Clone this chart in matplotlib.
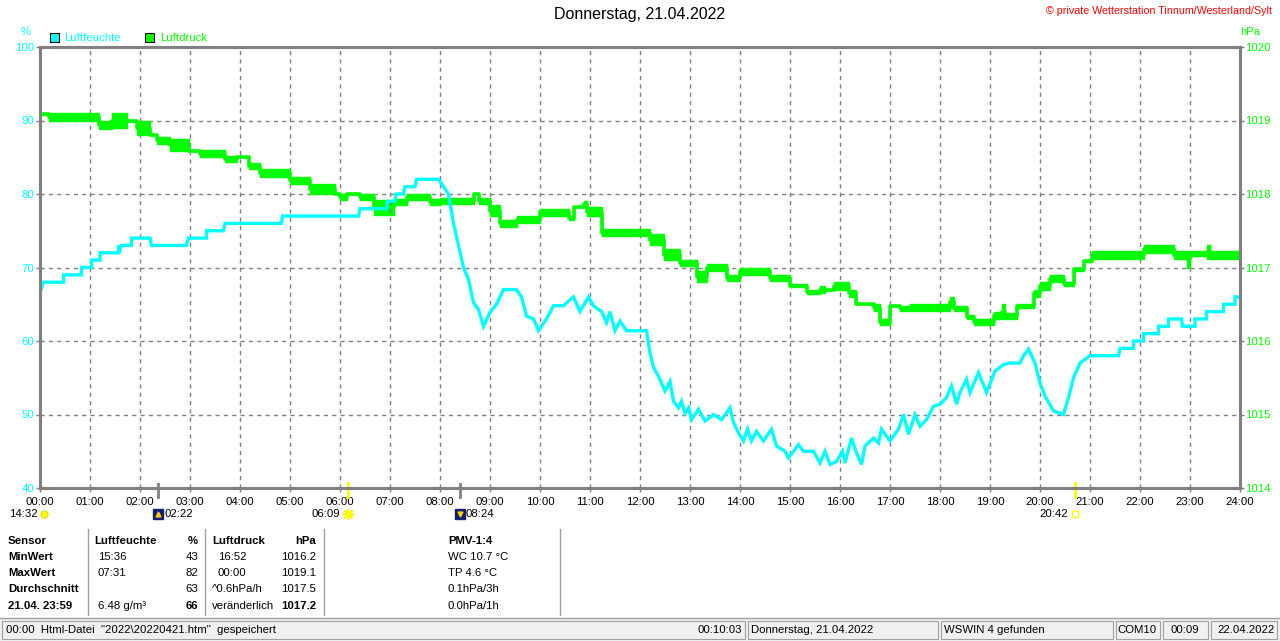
import matplotlib
matplotlib.use("Agg")
import matplotlib.pyplot as plt
import matplotlib.transforms as mtransforms
from matplotlib.patches import Rectangle
from matplotlib.lines import Line2D

plt.rcParams['font.family'] = ['Liberation Sans', 'DejaVu Sans']

# humidity (%); repeated hours give the steps
hum_t = [0.0, 0.03, 0.07, 0.47, 0.47, 0.83, 0.83, 1.03, 1.03, 1.2, 1.2, 1.57, 1.57, 1.6, 1.63,
         1.83, 1.83, 2.2, 2.23, 2.93, 2.97, 3.33, 3.33, 3.67, 3.7, 4.83, 4.85, 6.37, 6.4, 6.93,
         6.95, 7.1, 7.12, 7.27, 7.3, 7.5, 7.53, 7.97, 8.07, 8.17, 8.27, 8.37, 8.47, 8.57, 8.67,
         8.77, 8.87, 9.0, 9.13, 9.27, 9.53, 9.63, 9.73, 9.87, 9.97, 10.13, 10.27, 10.47, 10.67,
         10.8, 10.97, 11.07, 11.23, 11.33, 11.4, 11.5, 11.6, 11.73, 12.13, 12.2, 12.27, 12.37,
         12.5, 12.6, 12.67, 12.77, 12.83, 12.9, 12.97, 13.03, 13.17, 13.3, 13.47, 13.63, 13.8,
         13.87, 13.97, 14.07, 14.15, 14.23, 14.33, 14.47, 14.63, 14.73, 14.9, 14.97, 15.07,
         15.17, 15.27, 15.47, 15.6, 15.7, 15.8, 15.93, 16.05, 16.1, 16.23, 16.33, 16.43, 16.5,
         16.67, 16.77, 16.83, 17.0, 17.17, 17.27, 17.37, 17.5, 17.6, 17.73, 17.87, 18.0, 18.13,
         18.23, 18.33, 18.4, 18.53, 18.6, 18.77, 18.93, 19.1, 19.27, 19.4,
         19.6, 19.67, 19.77, 19.9, 20.0, 20.1, 20.27, 20.47, 20.57, 20.67, 20.8, 21.0, 21.57,
         21.6, 21.87, 21.87, 22.07, 22.07, 22.37, 22.37, 22.57, 22.57, 22.83, 22.85, 23.1, 23.1,
         23.33, 23.33, 23.67, 23.67, 23.9, 23.9, 24.0]
hum_v = [67.6, 67.2, 68, 68, 69, 69, 70, 70, 71, 71, 72, 72, 73, 72.4, 73,
         73, 74, 74, 73, 73, 74, 74, 75, 75, 76, 76, 77, 77, 78, 78,
         79, 79, 80, 80, 81, 81, 82, 82, 81, 80, 76, 73, 70, 68.4, 65.2,
         64.3, 62, 63.9, 65, 67, 67, 66, 63.4, 63, 61.4, 63, 64.8, 64.8, 66,
         64, 66, 64.8, 64, 62.5, 64, 61.4, 62.7, 61.4, 61.4, 58.4, 56.4, 55.2,
         53.2, 54.5, 51.8, 50.9, 51.8, 50.2, 50.9, 49.3, 50.7, 49.1, 50, 49.3, 50.9,
         48.9, 47.5, 46.4, 48, 46.4, 47.7, 46.4, 48, 45.7, 45, 44.1, 45,
         45.9, 45, 45, 43.4, 45, 43.2, 43.6, 45, 43.4, 46.8, 44.8, 43.2, 45.7,
         46.8, 46.1, 48, 46.4, 48, 50, 47.3, 50, 48.4, 49.3, 51.1, 51.4, 52.3,
         53.9, 51.4, 53, 54.8, 53, 55.7, 53, 55.9, 56.8, 57,
         57, 58, 58.9, 57, 54.3, 52.5, 50.5, 50, 52.3, 55, 57, 58, 58,
         59, 59, 60, 60, 61, 61, 62, 62, 63, 63, 62, 62, 63,
         63, 64, 64, 65, 65, 66, 66]

# air pressure (hPa): lower / upper edge of the jittering trace
pres_t = [0.0, 0.17, 1.17, 1.43, 1.73, 1.93, 2.2, 2.33, 2.6, 2.97, 3.2, 3.7, 3.93, 4.17, 4.4,
          5.0, 5.4, 5.9, 6.0, 6.13, 6.4, 6.67, 7.07, 7.33, 7.8, 8.0, 8.67, 8.77, 9.0, 9.2,
          9.53, 10.0, 10.57, 10.67, 10.87, 10.93, 11.23, 12.2, 12.47, 12.8, 13.13, 13.33, 13.73,
          14.0, 14.6, 15.0, 15.33, 15.6, 15.7, 15.87, 16.17, 16.33, 16.67, 16.8, 17.0, 17.2,
          17.4, 18.2, 18.27, 18.53, 18.67, 19.07, 19.23, 19.3, 19.53, 19.87, 20.0, 20.2, 20.47,
          20.67, 20.87, 21.03, 21.53, 22.07, 22.67, 22.93, 23.0, 23.33, 23.4, 24.0]
pres_lo = [1019.08, 1018.99, 1018.89, 1018.9, 1019.0, 1018.8, 1018.8, 1018.68, 1018.58, 1018.59,
           1018.5, 1018.43, 1018.5, 1018.34, 1018.23, 1018.14, 1018.0, 1018.0, 1017.92, 1018.0,
           1017.92, 1017.72, 1017.85, 1017.92, 1017.85, 1017.86, 1018.0, 1017.86, 1017.7, 1017.55,
           1017.6, 1017.7, 1017.64, 1017.82, 1017.82, 1017.7, 1017.43, 1017.3, 1017.1, 1017.02,
           1016.8, 1016.95, 1016.82, 1016.9, 1016.82, 1016.73, 1016.64, 1016.65, 1016.7, 1016.7,
           1016.6, 1016.5, 1016.41, 1016.22, 1016.48, 1016.41, 1016.41, 1016.45, 1016.41, 1016.3,
           1016.22, 1016.3, 1016.3, 1016.3, 1016.45, 1016.6, 1016.7, 1016.8, 1016.75, 1016.95,
           1017.07, 1017.12, 1017.12, 1017.2, 1017.12, 1017.0, 1017.15, 1017.12, 1017.12, 1017.12]
pres_hi = [1019.1, 1019.1, 1018.99, 1019.1, 1019.0, 1019.0, 1018.8, 1018.78, 1018.75, 1018.59,
           1018.6, 1018.52, 1018.5, 1018.42, 1018.34, 1018.23, 1018.14, 1018.0, 1018.0, 1018.0,
           1018.0, 1017.92, 1017.93, 1018.0, 1017.93, 1017.95, 1018.0, 1017.95, 1017.85, 1017.65,
           1017.7, 1017.8, 1017.7, 1017.82, 1017.9, 1017.82, 1017.52, 1017.45, 1017.25, 1017.1,
           1016.95, 1017.05, 1016.9, 1017.0, 1016.9, 1016.78, 1016.7, 1016.75, 1016.7, 1016.8,
           1016.7, 1016.5, 1016.5, 1016.3, 1016.48, 1016.48, 1016.5, 1016.6, 1016.48, 1016.35,
           1016.3, 1016.4, 1016.5, 1016.38, 1016.5, 1016.7, 1016.8, 1016.9, 1016.8, 1017.0,
           1017.1, 1017.22, 1017.22, 1017.3, 1017.22, 1017.22, 1017.22, 1017.3, 1017.22, 1017.22]

hour_labels = ["%02d:00" % h for h in range(25)]
hum_ticks = [40, 50, 60, 70, 80, 90, 100]
pres_ticks = [1014, 1015, 1016, 1017, 1018, 1019, 1020]

# moon / sun events: (hour, label)
moon_events = [(2 + 22 / 60, "02:22"), (8 + 24 / 60, "08:24")]
sun_events = [(6 + 9 / 60, "06:09"), (20 + 42 / 60, "20:42")]

table_rows = ["Sensor", "MinWert", "MaxWert", "Durchschnitt", "21.04. 23:59"]
hum_times = ["", "15:36", "07:31", "", "6.48 g/m³"]
hum_vals = ["%", "43", "82", "63", "66"]
pres_times = ["", "16:52", "00:00", "^0.6hPa/h", "veränderlich"]
pres_vals = ["hPa", "1016.2", "1019.1", "1017.5", "1017.2"]
pmv_lines = ["PMV-1:4", "WC 10.7 °C", "TP 4.6 °C", "0.1hPa/3h", "0.0hPa/1h"]

CYAN = "#00FFFF"
GREEN = "#00FF00"
GRAY = "#808080"

W, H = 1280, 641


def fx(x):
    return x / W


def fy(y):
    return 1 - y / H


fig = plt.figure(figsize=(W / 100, H / 100), dpi=100)
ax = fig.add_axes([fx(40), fy(488), 1200 / W, 441 / H])
ax2 = ax.twinx()
ax.set_zorder(ax2.get_zorder() + 1)
ax.patch.set_visible(False)

ax.set_xlim(0, 24)
ax.set_ylim(40, 100)
ax2.set_ylim(1014, 1020)
ax.set_xticks(range(25))
ax.set_xticklabels(hour_labels)
ax.set_yticks(hum_ticks)
ax2.set_yticks(pres_ticks)

ax2.xaxis.set_visible(True)
ax2.tick_params(axis="x", bottom=False, labelbottom=False, top=False)
ax2.grid(True, ls=(0, (3, 3)), color=GRAY, lw=1)

ax.tick_params(axis="x", length=3, width=1, color=GRAY, labelsize=8.2, pad=3.5)
ax.tick_params(axis="y", length=3, width=1, color=GRAY, labelcolor=CYAN, labelsize=8.2, pad=1)
ax2.tick_params(axis="y", length=3, width=1, color=GRAY, labelcolor=GREEN, labelsize=8.2, pad=1)
for a in (ax, ax2):
    for s in a.spines.values():
        s.set_color(GRAY)
        s.set_linewidth(2.2)

pres_mid = [(lo + hi) / 2 for lo, hi in zip(pres_lo, pres_hi)]
ax2.fill_between(pres_t, pres_lo, pres_hi, step="post", color=GREEN, lw=0)
ax2.step(pres_t, pres_lo, where="post", color=GREEN, lw=1.0)
ax2.step(pres_t, pres_hi, where="post", color=GREEN, lw=1.0)
ax2.step(pres_t, pres_mid, where="post", color=GREEN, lw=2.6)
ax.plot(hum_t, hum_v, color=CYAN, lw=2.4, solid_joinstyle="miter")

# event marks on the time axis
ax_blend = mtransforms.blended_transform_factory(ax.transData, ax.transAxes)
fig_blend = mtransforms.blended_transform_factory(ax.transData, fig.transFigure)
for t, _ in moon_events:
    ax.add_line(Line2D([t, t], [0.01, -0.02], transform=ax_blend, color=GRAY, lw=2, clip_on=False))
for t, _ in sun_events:
    ax.add_line(Line2D([t, t], [0.012, -0.02], transform=ax_blend, color="#FFFF00", lw=2, clip_on=False))

label_y = fy(514)
# moon rise of the day before, at the left edge
fig.text(fx(38), label_y, "14:32", ha="right", va="center", fontsize=8.2)
ax.plot([0.08], [label_y], transform=fig_blend, marker="o", ms=5, color="#FFFF00",
        mec="#E0E000", clip_on=False)
for t, lab in moon_events:
    off = mtransforms.offset_copy(fig_blend, fig=fig, x=6, y=0, units="dots")
    ax.plot([t], [label_y], transform=fig_blend, marker="s", ms=7, color="#102070", clip_on=False)
    ax.plot([t], [label_y], transform=fig_blend, marker="^" if t < 5 else "v", ms=3.5,
            color="#FFD000", clip_on=False)
    fig.text(t, label_y, lab, transform=off, ha="left", va="center", fontsize=8.2)
for t, lab in sun_events:
    off = mtransforms.offset_copy(fig_blend, fig=fig, x=-7, y=0, units="dots")
    fig.text(t, label_y, lab, transform=off, ha="right", va="center", fontsize=8.2)
    if t < 12:
        ax.plot([t], [label_y], transform=fig_blend, marker=(8, 2, 0), ms=8, color="#FFE800",
                clip_on=False)
        ax.plot([t], [label_y], transform=fig_blend, marker="o", ms=5, color="#FFFF00", clip_on=False)
    else:
        ax.plot([t], [label_y], transform=fig_blend, marker="s", ms=5, mfc="none", mec="#FFFF00",
                mew=1, clip_on=False)

# header
fig.text(0.5, fy(15), "Donnerstag, 21.04.2022", ha="center", va="center", fontsize=11.5)
fig.text(fx(1272), fy(11), "© private Wetterstation Tinnum/Westerland/Sylt", ha="right",
         va="center", fontsize=7.7, color="#FF0000")
fig.text(fx(26), fy(32), "%", ha="center", va="center", fontsize=8, color=CYAN)
fig.text(fx(1250), fy(32), "hPa", ha="center", va="center", fontsize=8.2, color=GREEN)
fig.patches.append(Rectangle((fx(50), fy(42)), 9 / W, 9 / H, transform=fig.transFigure,
                             fc=CYAN, ec="black", lw=0.8))
fig.text(fx(64), fy(38), "Luftfeuchte", ha="left", va="center", fontsize=8.2, color=CYAN)
fig.patches.append(Rectangle((fx(145), fy(42)), 9 / W, 9 / H, transform=fig.transFigure,
                             fc=GREEN, ec="black", lw=0.8))
fig.text(fx(160), fy(38), "Luftdruck", ha="left", va="center", fontsize=8.2, color=GREEN)

# summary table
row_y = [541, 557, 573, 589, 606]
for i, y in enumerate(row_y):
    bold = "bold" if i == 0 else "normal"
    fig.text(fx(8), fy(y), table_rows[i], ha="left", va="center", fontsize=8.2, fontweight="bold")
    if i == 0:
        fig.text(fx(94), fy(y), "Luftfeuchte", ha="left", va="center", fontsize=8.2, fontweight="bold")
        fig.text(fx(212), fy(y), "Luftdruck", ha="left", va="center", fontsize=8.2, fontweight="bold")
    else:
        fig.text(fx(98), fy(y), hum_times[i], ha="left", va="center", fontsize=8.2)
        fig.text(fx(212) if i > 2 else fx(218), fy(y), pres_times[i], ha="left", va="center",
                 fontsize=8.2)
    vb = "bold" if i in (0, 4) else "normal"
    fig.text(fx(198), fy(y), hum_vals[i], ha="right", va="center", fontsize=8.2, fontweight=vb)
    fig.text(fx(316), fy(y), pres_vals[i], ha="right", va="center", fontsize=8.2, fontweight=vb)
    fig.text(fx(448), fy(y), pmv_lines[i], ha="left", va="center", fontsize=8.2, fontweight=bold)

for x in (88, 205, 324, 560):
    fig.add_artist(Line2D([fx(x), fx(x)], [fy(529), fy(615)], transform=fig.transFigure,
                          color="#A0A0A0", lw=1))

# status bar
fig.patches.append(Rectangle((0, 0), 1, fy(618), transform=fig.transFigure, fc="#F0F0F0", ec="none"))
fig.add_artist(Line2D([0, 1], [fy(618), fy(618)], transform=fig.transFigure, color="#A0A0A0", lw=1))
panels = [(2, 745), (748, 938), (941, 1113), (1116, 1160), (1163, 1208), (1211, 1277)]
for x0, x1 in panels:
    fig.patches.append(Rectangle((fx(x0), fy(639)), (x1 - x0) / W, 18 / H, transform=fig.transFigure,
                                 fc="none", ec="#A0A0A0", lw=0.8))
sy = fy(630)
fig.text(fx(6), sy, '00:00  Html-Datei  "2022\\20220421.htm"  gespeichert', ha="left", va="center",
         fontsize=8.2)
fig.text(fx(742), sy, "00:10:03", ha="right", va="center", fontsize=8.2)
fig.text(fx(751), sy, "Donnerstag, 21.04.2022", ha="left", va="center", fontsize=8.2)
fig.text(fx(944), sy, "WSWIN 4 gefunden", ha="left", va="center", fontsize=8.2)
fig.text(fx(1117), sy, "COM10", ha="left", va="center", fontsize=8.2)
fig.text(fx(1185), sy, "00:09", ha="center", va="center", fontsize=8.2)
fig.text(fx(1275), sy, "22.04.2022", ha="right", va="center", fontsize=8.2)

fig.savefig("out.png", dpi=100)
